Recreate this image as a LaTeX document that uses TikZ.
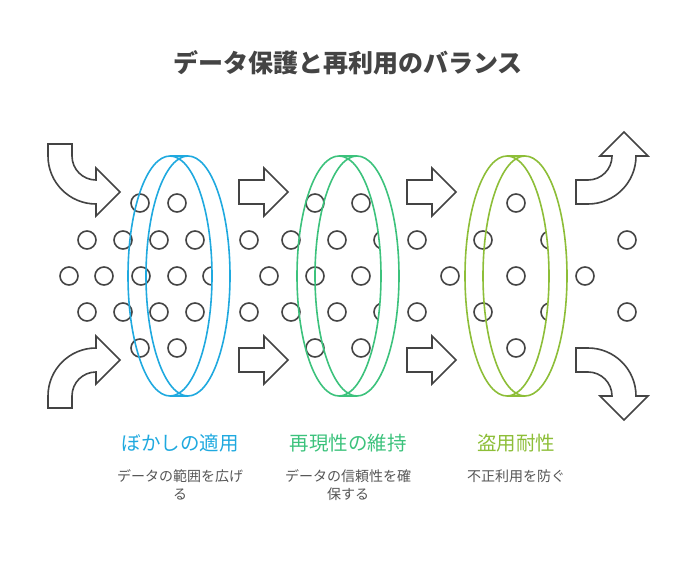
\documentclass[tikz,border=0pt]{standalone}
\usepackage{fontspec}
\newfontfamily\jp{Noto Sans CJK JP}
\definecolor{ink}{HTML}{444444}
\definecolor{txt}{HTML}{555555}
\definecolor{blurblue}{HTML}{1FA9DF}
\definecolor{keepgreen}{HTML}{3CC27C}
\definecolor{guardlime}{HTML}{8DBE38}
\tikzset{
  dot/.style={draw=ink, line width=1.6pt},
  blockarrow/.style={draw=ink, line width=1.6pt, fill=white, line join=miter},
  heading/.style={font=\jp\fontsize{19.5}{22}\selectfont, anchor=center},
  caption/.style={font=\jp\fontsize{14}{18}\selectfont, text=txt, align=center, anchor=north},
}
\begin{document}
\begin{tikzpicture}[x=1pt,y=-1pt]
    \useasboundingbox (0,0) rectangle (696,564);
    \node[font=\jp\bfseries\fontsize{25}{28}\selectfont, text=ink] (title) at (348,63) {データ保護と再利用のバランス};

    % particles
    \foreach \x in {140,177,315,361,516} {
        \draw[dot] (\x,203) circle (9);
        \draw[dot] (\x,348) circle (9);
    }
    \foreach \x in {87,123,159,195,249,291,337,383,417,483,550,627} {
        \draw[dot] (\x,240) circle (9);
        \draw[dot] (\x,312) circle (9);
    }
    \foreach \x in {69,104,141,177,212,269,315,361,450,516,585}
        \draw[dot] (\x,276) circle (9);

    % filters
    \foreach \c/\col in {170/blurblue,339/keepgreen,507/guardlime} {
        \begin{scope}
            \clip (\c+18,276) ellipse (42 and 120);
            \fill[white, even odd rule] (\c,276) ellipse (42 and 120) (0,0) rectangle (696,564);
        \end{scope}
        \draw[\col, line width=1.6pt] (\c,276) ellipse (42 and 120);
        \draw[\col, line width=1.6pt] (\c+18,276) ellipse (42 and 120);
        \draw[\col, line width=1.6pt] (\c,156) -- (\c+18,156);
        \draw[\col, line width=1.6pt] (\c,396) -- (\c+18,396);
    }

    % incoming arrows
    \draw[blockarrow] (48,144) -- (72,144) -- (72,156) arc[start angle=180, end angle=90, radius=24]
        -- (96,168) -- (120,192) -- (96,216) -- (96,204) arc[start angle=90, end angle=180, radius=48] -- cycle;
    \draw[blockarrow] (48,408) -- (72,408) -- (72,396) arc[start angle=180, end angle=270, radius=24]
        -- (96,384) -- (120,360) -- (96,336) -- (96,348) arc[start angle=270, end angle=180, radius=48] -- cycle;

    % straight arrows
    \foreach \x in {239,407}
        \foreach \y in {192,360}
            \draw[blockarrow] (\x,\y-12) -- (\x+25,\y-12) -- (\x+25,\y-24) -- (\x+49,\y)
                -- (\x+25,\y+24) -- (\x+25,\y+12) -- (\x,\y+12) -- cycle;

    % outgoing arrows
    \draw[blockarrow] (576,180) -- (588,180) arc[start angle=90, end angle=0, radius=24]
        -- (600,156) -- (624,132) -- (648,156) -- (636,156) arc[start angle=0, end angle=90, radius=48] -- (576,204) -- cycle;
    \draw[blockarrow] (576,372) -- (588,372) arc[start angle=270, end angle=360, radius=24]
        -- (600,396) -- (624,420) -- (648,396) -- (636,396) arc[start angle=0, end angle=-90, radius=48] -- (576,348) -- cycle;

    % labels
    \node[heading, text=blurblue] (blurhead) at (180,443) {ぼかしの適用};
    \node[caption] (blurtext) at (180,466) {データの範囲を広げ\\る};
    \node[heading, text=keepgreen] (keephead) at (348,443) {再現性の維持};
    \node[caption] (keeptext) at (348,466) {データの信頼性を確\\保する};
    \node[heading, text=guardlime] (guardhead) at (516,443) {盗用耐性};
    \node[caption] (guardtext) at (516,466) {不正利用を防ぐ};
\end{tikzpicture}
\end{document}
